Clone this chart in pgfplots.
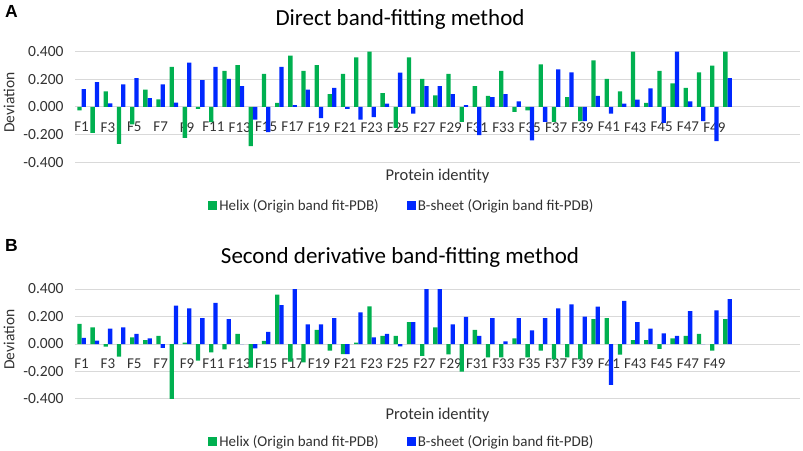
\documentclass[border=0pt]{standalone}
\usepackage{fontspec}
\setmainfont{Carlito}
\newfontfamily\arialfont{Liberation Sans}
\usepackage{pgfplots}
\usepackage{pgfplotstable}
\pgfplotsset{compat=1.18}
\definecolor{hgreen}{RGB}{0,176,80}
\definecolor{sblue}{RGB}{0,40,255}
\definecolor{gridgray}{RGB}{217,217,217}
\definecolor{txt}{RGB}{50,50,50}

% Panel A: Direct band-fitting method
\pgfplotstableread{
x h s
1 -0.024 0.129
2 -0.187 0.180
3 0.113 0.026
4 -0.266 0.163
5 -0.125 0.208
6 0.125 0.065
7 0.055 0.163
8 0.290 0.031
9 -0.223 0.321
10 -0.014 0.194
11 -0.110 0.290
12 0.261 0.204
13 0.302 0.151
14 -0.283 -0.091
15 0.240 -0.182
16 0.029 0.290
17 0.371 0.014
18 0.261 0.125
19 0.302 -0.081
20 0.093 0.139
21 0.240 -0.014
22 0.359 -0.091
23 0.400 -0.074
24 0.100 0.024
25 -0.151 0.249
26 0.359 -0.048
27 0.204 0.151
28 0.084 0.151
29 0.240 0.093
30 -0.108 0.014
31 0.151 -0.204
32 0.081 0.072
33 0.261 0.093
34 -0.036 0.041
35 -0.024 -0.242
36 0.309 -0.108
37 -0.108 0.273
38 0.072 0.251
39 -0.103 -0.103
40 0.338 0.081
41 0.204 -0.048
42 0.113 0.024
43 0.400 0.053
44 0.029 0.134
45 0.261 -0.115
46 0.170 0.400
47 0.139 0.041
48 0.251 -0.103
49 0.299 -0.247
50 0.400 0.208
}\dataA

% Panel B: Second derivative band-fitting method
\pgfplotstableread{
x h s
1 0.147 0.044
2 0.121 0.024
3 -0.019 0.111
4 -0.092 0.121
5 0.048 0.073
6 0.029 0.041
7 0.060 -0.029
8 -0.400 0.280
9 0.010 0.259
10 -0.121 0.189
11 -0.060 0.300
12 -0.039 0.181
13 0.073 0.000
14 -0.172 -0.031
15 0.022 0.089
16 0.360 0.283
17 -0.128 0.400
18 -0.133 0.143
19 0.102 0.143
20 -0.048 0.189
21 -0.073 -0.073
22 0.010 0.230
23 0.273 0.048
24 0.060 0.073
25 0.060 -0.017
26 0.160 0.160
27 -0.087 0.400
28 0.121 0.400
29 -0.075 0.143
30 -0.200 0.198
31 0.102 0.060
32 -0.097 0.189
33 -0.097 0.019
34 0.041 0.189
35 -0.097 0.099
36 -0.048 0.189
37 -0.111 0.259
38 -0.097 0.288
39 -0.111 0.200
40 0.181 0.271
41 0.189 -0.297
42 -0.077 0.314
43 0.029 0.160
44 0.029 0.111
45 -0.036 0.077
46 0.041 0.060
47 0.060 0.239
48 0.073 0.000
49 -0.048 0.244
50 0.181 0.326
}\dataB

\pgfplotsset{
  sqlegend/.style={legend image code/.code={\fill[##1] (0bp,-4.5bp) rectangle (9bp,4.5bp);}},
  panel/.style={
    scale only axis, width=725bp,
    xmin=0.5, xmax=55.5, ymin=-0.4, ymax=0.4,
    ybar=0pt, bar width=4.3bp,
    axis line style={draw=none}, major tick length=0pt,
    ytick={-0.4,-0.2,0,0.2,0.4},
    ymajorgrids, major grid style={draw=gridgray, line width=1bp},
    xtick={1,3,...,49},
    xticklabels={F1,F3,F5,F7,F9,F11,F13,F15,F17,F19,F21,F23,F25,F27,F29,F31,F33,F35,F37,F39,F41,F43,F45,F47,F49},
    /pgf/number format/assume math mode=true,
    yticklabel style={/pgf/number format/fixed, /pgf/number format/fixed zerofill,
      /pgf/number format/precision=3, font=\fontsize{15.5bp}{18bp}\selectfont, text=txt, xshift=-8bp},
    xticklabel style={font=\fontsize{15bp}{17bp}\selectfont, text=txt, yshift=43.5bp},
    ylabel={Deviation},
    ylabel style={at={(rel axis cs:-0.0908,0.54)}, anchor=center, font=\fontsize{15.5bp}{18bp}\selectfont, text=txt},
    xlabel={Protein identity},
    legend style={at={(0.4509,-0.389)}, anchor=center, draw=none, fill=none,
      legend columns=2, font=\fontsize{15bp}{18bp}\selectfont, text=txt,
      /tikz/every even column/.append style={column sep=26bp}},
    legend cell align=left,
  }
}

\begin{document}
\begin{tikzpicture}
\useasboundingbox (0,0) rectangle (803bp,451bp);

% Panel A
\node[anchor=base west, font=\arialfont\bfseries\fontsize{17.5bp}{20bp}\selectfont] at (1.5bp,433bp) {A};
\node[anchor=base, font=\fontsize{23bp}{27bp}\selectfont] at (400bp,425bp) {Direct band-fitting method};
\begin{axis}[panel, at={(75bp,288.7bp)}, anchor=south west, height=110.6bp,
  xlabel style={at={(rel axis cs:0.5,-0.166)}, anchor=base, font=\fontsize{16.5bp}{19bp}\selectfont, text=txt}]
\addplot[fill=hgreen, draw=none, sqlegend] table[x=x, y=h] {\dataA};
\addplot[fill=sblue, draw=none, sqlegend] table[x=x, y=s] {\dataA};
\legend{Helix (Origin band fit-PDB), B-sheet (Origin band fit-PDB)}
\end{axis}

% Panel B
\node[anchor=base west, font=\arialfont\bfseries\fontsize{17.5bp}{20bp}\selectfont] at (1.5bp,199bp) {B};
\node[anchor=base, font=\fontsize{23bp}{27bp}\selectfont] at (400bp,187bp) {Second derivative band-fitting method};
\begin{axis}[panel, at={(75bp,52bp)}, anchor=south west, height=110bp,
  xlabel style={at={(rel axis cs:0.5,-0.185)}, anchor=base, font=\fontsize{16.5bp}{19bp}\selectfont, text=txt}]
\addplot[fill=hgreen, draw=none, sqlegend] table[x=x, y=h] {\dataB};
\addplot[fill=sblue, draw=none, sqlegend] table[x=x, y=s] {\dataB};
\legend{Helix (Origin band fit-PDB), B-sheet (Origin band fit-PDB)}
\end{axis}
\end{tikzpicture}
\end{document}
